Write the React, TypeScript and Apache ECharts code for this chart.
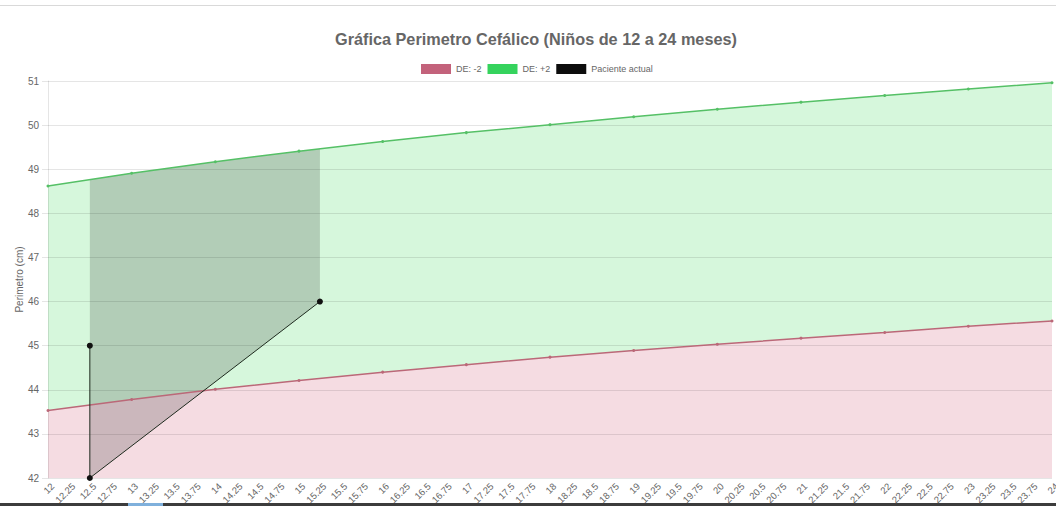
import React, { useEffect, useRef } from "react";
import * as echarts from "echarts";

const categories = [
  "12", "12.25", "12.5", "12.75", "13", "13.25", "13.5", "13.75",
  "14", "14.25", "14.5", "14.75", "15", "15.25", "15.5", "15.75",
  "16", "16.25", "16.5", "16.75", "17", "17.25", "17.5", "17.75",
  "18", "18.25", "18.5", "18.75", "19", "19.25", "19.5", "19.75",
  "20", "20.25", "20.5", "20.75", "21", "21.25", "21.5", "21.75",
  "22", "22.25", "22.5", "22.75", "23", "23.25", "23.5", "23.75", "24",
];

const months = ["12", "13", "14", "15", "16", "17", "18", "19", "20", "21", "22", "23", "24"];
const deMinus2 = [43.53, 43.78, 44.01, 44.21, 44.4, 44.57, 44.74, 44.89, 45.03, 45.17, 45.3, 45.44, 45.56];
const dePlus2 = [48.62, 48.91, 49.17, 49.41, 49.63, 49.83, 50.01, 50.19, 50.36, 50.52, 50.67, 50.82, 50.96];

const patientX = ["12.5", "12.5", "15.25"];
const patientY = [45, 42, 46];

const TITLE = "Gráfica Perimetro Cefálico (Niños de 12 a 24 meses)";
const FONT = "'Liberation Sans', Arial, Helvetica, sans-serif";

export default function App() {
  const ref = useRef<HTMLDivElement>(null);

  useEffect(() => {
    if (!ref.current) return;
    const chart = echarts.init(ref.current, null, { renderer: "svg" });

    const greenData = months.map((m, i) => [m, dePlus2[i]]);
    const redData = months.map((m, i) => [m, deMinus2[i]]);
    const patientData = patientX.map((x, i) => [x, patientY[i]]);
    const idx = (c: string) => categories.indexOf(c);

    const option: any = {
      animation: false,
      backgroundColor: "#ffffff",
      textStyle: { fontFamily: FONT },
      title: {
        text: TITLE,
        left: 330,
        top: 26,
        textStyle: { fontSize: 16.25, fontWeight: "bold", color: "#666666", fontFamily: FONT },
      },
      legend: {
        left: 416,
        top: 59,
        icon: "rect",
        itemWidth: 30,
        itemHeight: 10,
        itemGap: 6,
        itemStyle: { borderWidth: 0 },
        textStyle: { fontSize: 9, color: "#666666", fontFamily: FONT },
        data: [
          { name: "DE: -2", itemStyle: { color: "#c3627b" } },
          { name: "DE: +2", itemStyle: { color: "#35d35d" } },
          { name: "Paciente actual", itemStyle: { color: "#0d0d0d" } },
        ],
      },
      grid: { left: 48, right: 4, top: 81, bottom: 28, containLabel: false, outerBoundsMode: "none" },
      xAxis: {
        type: "category",
        data: categories,
        boundaryGap: false,
        axisLine: { show: false },
        axisTick: { show: false },
        splitLine: { show: false },
        axisLabel: {
          interval: 0,
          rotate: 45,
          fontSize: 9.5,
          lineHeight: 13,
          color: "#666666",
          margin: 2,
          verticalAlign: "top",
          fontFamily: FONT,
        },
      },
      yAxis: {
        type: "value",
        min: 42,
        max: 51,
        interval: 1,
        z: 3,
        name: "Perimetro (cm)",
        nameLocation: "middle",
        nameGap: 24,
        nameMoveOverlap: false,
        nameTextStyle: { fontSize: 10, color: "#666666", fontFamily: FONT },
        axisLine: { show: true, lineStyle: { color: "rgba(0,0,0,0.1)", width: 1 } },
        axisTick: { show: true, length: 6, lineStyle: { color: "rgba(0,0,0,0.1)" } },
        splitLine: { show: true, lineStyle: { color: "rgba(0,0,0,0.1)", width: 1 } },
        axisLabel: { fontSize: 10, color: "#666666", margin: 9, fontFamily: FONT },
      },
      graphic: [
        { type: "line", shape: { x1: 0, y1: 5.5, x2: 1056, y2: 5.5 }, style: { stroke: "#d9d9d9", lineWidth: 1 } },
        { type: "rect", shape: { x: 0, y: 503, width: 1056, height: 3 }, style: { fill: "#3c3c3c" } },
        { type: "rect", shape: { x: 128, y: 503, width: 35, height: 3 }, style: { fill: "#7fb0dc" } },
      ],
      series: [
        {
          name: "DE: +2",
          type: "line",
          data: greenData,
          symbol: "none",
          silent: true,
          z: 1,
          lineStyle: { width: 0, opacity: 0 },
          areaStyle: { color: "#d6f7dc", opacity: 1, origin: "start" },
        },
        {
          name: "DE: -2",
          type: "line",
          data: redData,
          symbol: "none",
          silent: true,
          z: 1,
          lineStyle: { width: 0, opacity: 0 },
          areaStyle: { color: "#f5dce2", opacity: 1, origin: "start" },
        },
        {
          name: "patient-fill",
          type: "custom",
          silent: true,
          z: 2,
          data: [[idx(patientX[0]), patientY[0]]],
          renderItem: (_params: any, api: any) => {
            const pts = patientX.map((c, i) => api.coord([idx(c), patientY[i]]));
            const green = months.map((m, i) => api.coord([idx(m), dePlus2[i]]));
            const greenAt = (x: number) => {
              for (let j = 0; j < green.length - 1; j++) {
                const a = green[j];
                const b = green[j + 1];
                if (x >= a[0] && x <= b[0]) {
                  const t = (x - a[0]) / (b[0] - a[0]);
                  return [x, a[1] + t * (b[1] - a[1])];
                }
              }
              return green[green.length - 1];
            };
            const xL = pts[0][0];
            const xR = pts[pts.length - 1][0];
            const mid = green.filter((p: number[]) => p[0] > xL && p[0] < xR).reverse();
            const poly = [...pts, greenAt(xR), ...mid, greenAt(xL)];
            return {
              type: "polygon",
              shape: { points: poly },
              style: { fill: "rgba(0,0,0,0.17)" },
            };
          },
        },
        {
          name: "DE: +2",
          type: "line",
          data: greenData,
          symbol: "circle",
          symbolSize: 3,
          z: 5,
          lineStyle: { color: "#55c066", width: 1.5 },
          itemStyle: { color: "#55c066" },
        },
        {
          name: "DE: -2",
          type: "line",
          data: redData,
          symbol: "circle",
          symbolSize: 3,
          z: 5,
          lineStyle: { color: "#bb6878", width: 1.5 },
          itemStyle: { color: "#bb6878" },
        },
        {
          name: "Paciente actual",
          type: "line",
          data: patientData,
          symbol: "circle",
          symbolSize: 6,
          z: 6,
          lineStyle: { color: "#1e2a1e", width: 1 },
          itemStyle: { color: "#111111" },
        },
      ],
    };

    chart.setOption(option);
    return () => chart.dispose();
  }, []);

  return (
    <div
      ref={ref}
      style={{ position: "absolute", left: 0, top: 0, width: 1056, height: 506, background: "#fff" }}
    />
  );
}
